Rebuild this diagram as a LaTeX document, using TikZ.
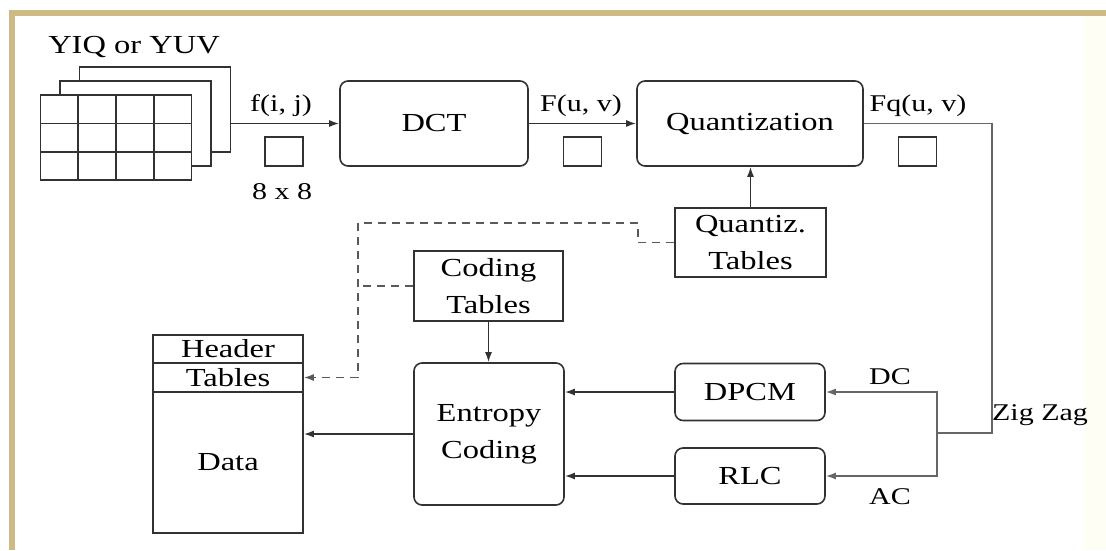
\documentclass[tikz,border=0pt]{standalone}
\usepackage{fontspec}
\setmainfont{Liberation Serif}[FakeStretch=1.25]
\usetikzlibrary{arrows.meta,positioning}
\definecolor{frametan}{RGB}{206,186,132}
\definecolor{ink}{RGB}{50,50,50}
\newcommand\boxfont{\fontsize{26pt}{37pt}\selectfont}
\newcommand\lblfont{\fontsize{24pt}{28pt}\selectfont}

\begin{document}
\begin{tikzpicture}[x=1pt,y=-1pt,>={Latex[length=10pt,width=7pt]},line width=1.6pt,
  blk/.style={draw=ink,rounded corners=8pt,align=center,inner sep=0pt,font=\boxfont,text=black},
  tbl/.style={draw=ink,align=center,inner sep=0pt,font=\boxfont,text=black},
  sq/.style={draw=ink,minimum width=38pt,minimum height=29pt,inner sep=0pt},
  sheet/.style={draw=ink,fill=white,minimum width=151pt,minimum height=85pt,inner sep=0pt},
  lbl/.style={font=\lblfont,inner sep=0pt,text=black},
  arr/.style={->,draw=ink},
  dsh/.style={->,draw=black!65,dash pattern=on 8pt off 6pt}]
\useasboundingbox (0,0) rectangle (1106,550);
% frame
\fill[white] (0,0) rectangle (1106,550);
\fill[yellow!4] (1084,16) rectangle (1106,550);
\fill[frametan] (10,10) rectangle (1106,16);
\fill[frametan] (9,10) rectangle (15,550);

% image planes
\node[lbl,font=\boxfont] (title) at (134,47) {YIQ or YUV};
\foreach \k in {2,1,0}
  \node[sheet] (s\k) at (116+19.5*\k,137.5-14*\k) {};
\foreach \i in {1,2,3} \draw[ink] (40+38*\i,95) -- (40+38*\i,180);
\foreach \j in {1,2} \draw[ink] (40,95+28.5*\j) -- (192,95+28.5*\j);

% top row
\node[blk,minimum width=188pt,minimum height=85pt] (dct) at (434,123.5) {DCT};
\node[blk,minimum width=226pt,minimum height=85pt] (quant) at (750,123.5) {Quantization};
\node[tbl,minimum width=151pt,minimum height=69pt] (qtab) at (750.5,242.5) {Quantiz.\\Tables};

\node[lbl] (fij) at (281,106) {f(i, j)};
\node[sq] (sq1) at (284,151.5) {};
\node[lbl] (dim) at (282,192) {8 x 8};
\node[lbl] (fuv) at (581,106) {F(u, v)};
\node[sq] (sq2) at (582.5,151.5) {};
\node[lbl] (fquv) at (918,106) {Fq(u, v)};
\node[sq] (sq3) at (917.5,151.5) {};

% bottom part
\node[tbl,minimum width=149pt,minimum height=70pt] (ctab) at (488.5,286) {Coding\\Tables};
\node[blk,minimum width=150pt,minimum height=142pt] (ent) at (489,434) {Entropy\\Coding};
\node[blk,minimum width=150pt,minimum height=57pt] (dpcm) at (750,392) {DPCM};
\node[blk,minimum width=150pt,minimum height=56pt] (rlc) at (750,476) {RLC};
\node[tbl,minimum width=150pt,minimum height=28pt] (head) at (228,349) {Header};
\node[tbl,minimum width=150pt,minimum height=29pt] (htab) at (228,377.5) {Tables};
\node[tbl,minimum width=150pt,minimum height=141pt] (data) at (228,462.5) {Data};

\node[lbl] (dc) at (890,377) {DC};
\node[lbl] (ac) at (890,497) {AC};
\coordinate (zz) at (992,433);
\coordinate (split) at (937,433);
\coordinate (dbend) at (638,223);
\coordinate (dtop) at (358,223);

% connectors
\draw[arr] (s2.east |- dct.west) -- (dct.west);
\draw[arr] (dct.east) -- (quant.west);
\draw[arr] (qtab.north) -- (qtab.north |- quant.south);
\draw[black!60] (quant.east) -| (zz) -- (split);
\node[lbl] (zig) at (1040,415) {Zig Zag};
\draw[arr,draw=black!60] (split) |- (dpcm.east);
\draw[arr,draw=black!60] (split) |- (rlc.east);
\draw[arr] (dpcm.west) -- (dpcm.west -| ent.east);
\draw[arr] (rlc.west) -- (rlc.west -| ent.east);
\draw[arr] (ent.west) -- (ent.west -| data.east);
\draw[arr] (ctab.south) -- (ctab.south |- ent.north);
\draw[dsh] (qtab.west) -| (dbend) -- (dtop) |- (htab.east);
\draw[dsh,-] (ctab.west) -- (ctab.west -| dtop);
\end{tikzpicture}
\end{document}
